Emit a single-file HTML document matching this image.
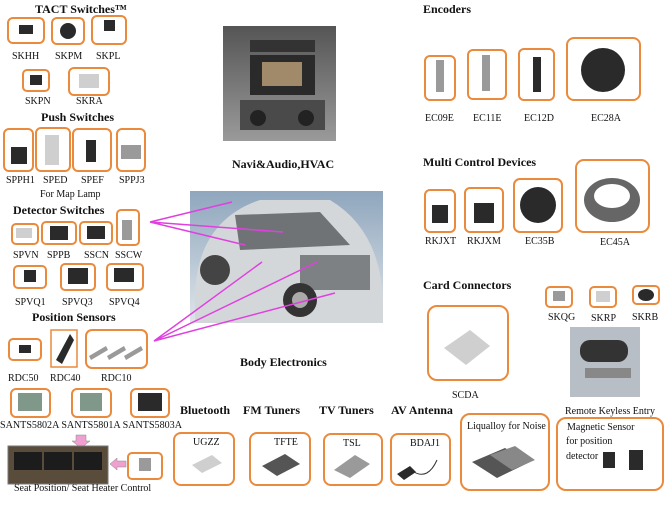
<!DOCTYPE html>
<html><head><meta charset="utf-8"><style>
html,body{margin:0;padding:0;background:#fff}
svg{display:block}
text{font-family:"Liberation Serif",serif;fill:#111}
.t{font-weight:bold;font-size:12px}
.l{font-size:10px}
.b{fill:none;stroke:#e98a3c;stroke-width:2}
.d{fill:#2a2a2a}.g{fill:#9a9a9a}.lg{fill:#cfcfcf}
</style></head><body>
<svg width="672" height="505" viewBox="0 0 672 505" xmlns="http://www.w3.org/2000/svg">
<defs>
<linearGradient id="dash" x1="0" y1="0" x2="0" y2="1"><stop offset="0" stop-color="#555"/><stop offset="1" stop-color="#9a9a9a"/></linearGradient>
<linearGradient id="sky" x1="0" y1="0" x2="0" y2="1"><stop offset="0" stop-color="#8fa6bd"/><stop offset="1" stop-color="#dfe5ea"/></linearGradient>
</defs>
<!-- TACT -->
<text class="t" x="35" y="13">TACT Switches™</text>
<rect class="b" x="8" y="18" width="36" height="25" rx="5"/><rect class="d" x="19" y="25" width="14" height="9"/>
<rect class="b" x="52" y="18" width="32" height="26" rx="5"/><circle class="d" cx="68" cy="31" r="8"/>
<rect class="b" x="92" y="16" width="34" height="28" rx="5"/><rect class="d" x="104" y="20" width="11" height="11"/>
<text class="l" x="12" y="59">SKHH</text><text class="l" x="55" y="59">SKPM</text><text class="l" x="96" y="59">SKPL</text>
<rect class="b" x="23" y="70" width="26" height="21" rx="4"/><rect class="d" x="30" y="75" width="12" height="10"/>
<rect class="b" x="69" y="68" width="40" height="27" rx="5"/><rect class="lg" x="79" y="74" width="20" height="14"/>
<text class="l" x="25" y="104">SKPN</text><text class="l" x="76" y="104">SKRA</text>
<text class="t" x="41" y="121">Push Switches</text>
<rect class="b" x="4" y="129" width="29" height="42" rx="5"/><rect class="d" x="11" y="147" width="16" height="17"/>
<rect class="b" x="36" y="128" width="34" height="43" rx="5"/><rect class="lg" x="45" y="135" width="14" height="30"/>
<rect class="b" x="73" y="129" width="38" height="42" rx="5"/><rect class="d" x="86" y="140" width="10" height="22"/>
<rect class="b" x="117" y="129" width="28" height="42" rx="5"/><rect class="g" x="121" y="145" width="20" height="14"/>
<text class="l" x="6" y="183">SPPH1</text><text class="l" x="43" y="183">SPED</text><text class="l" x="81" y="183">SPEF</text><text class="l" x="119" y="183">SPPJ3</text>
<text class="l" x="40" y="197">For Map Lamp</text>
<text class="t" x="13" y="214">Detector Switches</text>
<rect class="b" x="12" y="224" width="26" height="20" rx="4"/><rect class="lg" x="16" y="228" width="16" height="10"/>
<rect class="b" x="42" y="222" width="34" height="22" rx="4"/><rect class="d" x="50" y="226" width="18" height="14"/>
<rect class="b" x="80" y="222" width="32" height="22" rx="4"/><rect class="d" x="87" y="226" width="18" height="13"/>
<rect class="b" x="117" y="210" width="22" height="35" rx="4"/><rect class="g" x="122" y="220" width="10" height="20"/>
<text class="l" x="13" y="258">SPVN</text><text class="l" x="47" y="258">SPPB</text><text class="l" x="84" y="258">SSCN</text><text class="l" x="115" y="258">SSCW</text>
<rect class="b" x="14" y="266" width="32" height="22" rx="4"/><rect class="d" x="24" y="270" width="12" height="12"/>
<rect class="b" x="61" y="264" width="34" height="26" rx="4"/><rect class="d" x="68" y="268" width="20" height="16"/>
<rect class="b" x="107" y="264" width="36" height="26" rx="4"/><rect class="d" x="114" y="268" width="20" height="14"/>
<text class="l" x="15" y="305">SPVQ1</text><text class="l" x="62" y="305">SPVQ3</text><text class="l" x="109" y="305">SPVQ4</text>
<text class="t" x="32" y="321">Position Sensors</text>
<rect class="b" x="9" y="339" width="32" height="21" rx="4"/><rect class="d" x="19" y="345" width="12" height="8"/>
<rect x="51" y="330" width="26" height="37" fill="none" stroke="#e98a3c" stroke-width="1.5"/><polygon class="d" points="56,360 70,334 74,340 62,364"/>
<rect class="b" x="86" y="330" width="61" height="38" rx="6"/>
<g class="g"><polygon points="89,356 106,346 108,350 91,360"/><polygon points="107,356 124,346 126,350 109,360"/><polygon points="124,356 141,346 143,350 126,360"/></g>
<text class="l" x="8" y="381">RDC50</text><text class="l" x="50" y="381">RDC40</text><text class="l" x="101" y="381">RDC10</text>
<rect class="b" x="11" y="389" width="39" height="28" rx="5"/><rect fill="#7f9889" x="18" y="393" width="24" height="18"/>
<rect class="b" x="72" y="389" width="39" height="28" rx="5"/><rect fill="#7f9889" x="80" y="393" width="22" height="18"/>
<rect class="b" x="131" y="389" width="38" height="28" rx="5"/><rect class="d" x="138" y="393" width="24" height="18"/>
<text class="l" x="0" y="428" textLength="182" lengthAdjust="spacingAndGlyphs">SANTS5802A SANTS5801A SANTS5803A</text>
<polygon fill="#f0a0d0" stroke="#888" stroke-width="0.5" points="76,435 86,435 86,441 90,441 81,448 72,441 76,441"/>
<rect x="8" y="446" width="100" height="38" fill="#5a4c3a" stroke="#777" stroke-width="1"/>
<rect x="14" y="452" width="28" height="18" fill="#1c1c1c"/><rect x="44" y="452" width="28" height="18" fill="#1c1c1c"/><rect x="74" y="452" width="28" height="18" fill="#1c1c1c"/>
<polygon fill="#f0a0d0" stroke="#888" stroke-width="0.5" points="110,464 117,458 117,461 126,461 126,467 117,467 117,470"/>
<rect class="b" x="128" y="453" width="34" height="26" rx="4"/><rect class="g" x="139" y="458" width="12" height="13"/>
<text class="l" x="14" y="491">Seat Position/ Seat Heater Control</text>
<!-- center -->
<rect x="223" y="26" width="113" height="115" fill="url(#dash)"/>
<rect x="250" y="40" width="65" height="12" fill="#333"/>
<rect x="250" y="55" width="65" height="40" fill="#2a2a2a"/><rect x="262" y="62" width="40" height="24" fill="#a08a6a"/>
<rect x="240" y="100" width="85" height="30" fill="#4a4a4a"/><circle cx="258" cy="118" r="8" fill="#222"/><circle cx="306" cy="118" r="8" fill="#222"/>
<text class="t" x="232" y="168">Navi&amp;Audio,HVAC</text>
<rect x="190" y="191" width="193" height="132" fill="url(#sky)"/>
<path d="M195,290 Q200,220 260,200 L330,200 Q380,230 383,300 L383,323 L195,323 Z" fill="#d4d7da"/>
<path d="M235,215 L320,212 L350,245 L240,250 Z" fill="#6f7376"/>
<rect x="300" y="255" width="70" height="35" fill="#7d8184"/>
<circle cx="300" cy="300" r="17" fill="#333"/><circle cx="300" cy="300" r="8" fill="#aaa"/><circle cx="215" cy="270" r="15" fill="#444"/>
<text class="t" x="240" y="366">Body Electronics</text>
<g stroke="#e040e0" stroke-width="1.5" fill="none">
<path d="M150,222 L232,202 M150,222 L283,232 M150,222 L245,245"/>
<path d="M154,341 L262,262 M154,341 L317,262 M154,341 L335,293"/>
</g>
<!-- right -->
<text class="t" x="423" y="13">Encoders</text>
<rect class="b" x="425" y="56" width="30" height="44" rx="5"/><rect class="g" x="436" y="60" width="8" height="32"/>
<rect class="b" x="468" y="50" width="38" height="49" rx="5"/><rect class="g" x="482" y="55" width="8" height="36"/>
<rect class="b" x="519" y="49" width="35" height="51" rx="5"/><rect class="d" x="533" y="57" width="8" height="35"/>
<rect class="b" x="567" y="38" width="73" height="62" rx="7"/><circle class="d" cx="603" cy="70" r="22"/>
<text class="l" x="425" y="121">EC09E</text><text class="l" x="473" y="121">EC11E</text><text class="l" x="524" y="121">EC12D</text><text class="l" x="591" y="121">EC28A</text>
<text class="t" x="423" y="166">Multi Control Devices</text>
<rect class="b" x="425" y="190" width="30" height="42" rx="5"/><rect class="d" x="432" y="205" width="16" height="18"/>
<rect class="b" x="465" y="188" width="38" height="44" rx="5"/><rect class="d" x="474" y="203" width="20" height="20"/>
<rect class="b" x="514" y="179" width="48" height="53" rx="6"/><circle class="d" cx="538" cy="205" r="18"/>
<rect class="b" x="576" y="160" width="73" height="72" rx="8"/><ellipse cx="612" cy="200" rx="28" ry="22" fill="#666"/><ellipse cx="612" cy="196" rx="18" ry="12" fill="#fff"/>
<text class="l" x="425" y="244">RKJXT</text><text class="l" x="467" y="244">RKJXM</text><text class="l" x="525" y="244">EC35B</text><text class="l" x="600" y="245">EC45A</text>
<text class="t" x="423" y="289">Card Connectors</text>
<rect class="b" x="428" y="306" width="80" height="74" rx="9"/><polygon class="lg" points="444,348 470,330 490,346 466,365"/>
<text class="l" x="452" y="398">SCDA</text>
<rect class="b" x="546" y="287" width="26" height="20" rx="4"/><rect class="g" x="553" y="291" width="12" height="10"/>
<rect class="b" x="590" y="287" width="26" height="20" rx="4"/><rect class="lg" x="596" y="291" width="14" height="11"/>
<rect class="b" x="633" y="286" width="26" height="18" rx="4"/><ellipse class="d" cx="646" cy="295" rx="8" ry="6"/>
<text class="l" x="548" y="320">SKQG</text><text class="l" x="591" y="321">SKRP</text><text class="l" x="632" y="320">SKRB</text>
<rect x="570" y="327" width="70" height="70" fill="#b8bec6"/><rect x="580" y="340" width="48" height="22" rx="10" fill="#333"/><rect x="585" y="368" width="46" height="10" fill="#888"/>
<text class="l" x="565" y="414">Remote Keyless Entry</text>
<!-- bottom -->
<text class="t" x="180" y="414">Bluetooth</text><text class="t" x="243" y="414">FM Tuners</text><text class="t" x="319" y="414">TV Tuners</text><text class="t" x="391" y="414">AV Antenna</text>
<rect class="b" x="174" y="433" width="60" height="52" rx="7"/><text class="l" x="193" y="445">UGZZ</text><polygon class="lg" points="192,465 212,455 222,463 202,473"/>
<rect class="b" x="250" y="433" width="60" height="52" rx="7"/><text class="l" x="274" y="445">TFTE</text><polygon fill="#555" points="262,466 285,454 300,464 277,476"/>
<rect class="b" x="324" y="434" width="58" height="51" rx="7"/><text class="l" x="343" y="446">TSL</text><polygon class="g" points="334,470 355,455 370,464 350,478"/>
<rect class="b" x="391" y="434" width="59" height="51" rx="7"/><text class="l" x="410" y="446">BDAJ1</text><polygon class="d" points="397,474 410,466 416,472 404,480"/><path d="M414,472 Q428,480 437,460" stroke="#333" fill="none"/>
<rect class="b" x="461" y="414" width="88" height="76" rx="9"/><text class="l" x="467" y="429">Liqualloy for Noise</text>
<polygon fill="#555" points="472,462 505,448 530,462 497,478"/><polygon fill="#888" points="490,455 515,446 535,460 512,470"/>
<rect class="b" x="557" y="418" width="106" height="72" rx="9"/>
<text class="l" x="567" y="430">Magnetic Sensor</text><text class="l" x="566" y="444">for position</text><text class="l" x="566" y="459">detector</text>
<rect class="d" x="603" y="452" width="12" height="16"/><rect class="d" x="629" y="450" width="14" height="20"/>
</svg>
</body></html>
